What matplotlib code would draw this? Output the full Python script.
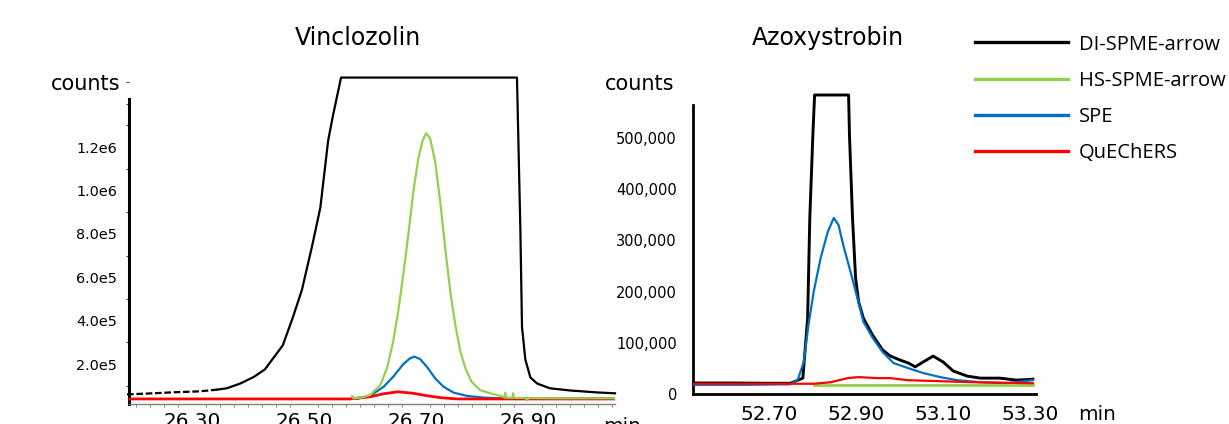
import matplotlib
matplotlib.use("Agg")
import matplotlib.pyplot as plt
from matplotlib.ticker import MultipleLocator, FixedLocator

# ---------------- data ----------------
series_names = ["DI-SPME-arrow", "HS-SPME-arrow", "SPE", "QuEChERS"]
colors = {"DI-SPME-arrow": "#000000", "HS-SPME-arrow": "#92D050",
          "SPE": "#0070C0", "QuEChERS": "#FF0000"}

# Vinclozolin (counts vs min)
vin_di_t = [26.184, 26.23, 26.27, 26.314, 26.345, 26.362, 26.386, 26.41, 26.43, 26.462,
            26.48, 26.496, 26.514, 26.529, 26.543, 26.552, 26.566, 26.880, 26.882,
            26.886, 26.889, 26.895, 26.904, 26.916, 26.939, 26.975, 27.023, 27.055]
vin_di_v = [6.0e4, 6.5e4, 7.0e4, 7.4e4, 8.2e4, 8.8e4, 1.1e5, 1.4e5, 1.75e5, 2.86e5,
            4.15e5, 5.4e5, 7.4e5, 9.2e5, 1.23e6, 1.35e6, 1.52e6, 1.52e6, 1.29e6,
            8.3e5, 3.7e5, 2.2e5, 1.38e5, 1.1e5, 8.8e4, 7.8e4, 6.9e4, 6.5e4]
vin_hs_t = [26.586, 26.588, 26.60, 26.618, 26.636, 26.648, 26.659, 26.668, 26.677,
            26.686, 26.695, 26.704, 26.712, 26.718, 26.725, 26.734, 26.743, 26.752,
            26.761, 26.770, 26.779, 26.788, 26.799, 26.814, 26.832, 26.855, 26.858,
            26.859, 26.861, 26.872, 26.873, 26.875, 26.896, 26.898, 26.900, 26.95,
            27.0, 27.055]
vin_hs_v = [5.2e4, 4.2e4, 4.4e4, 5.7e4, 1.03e5, 1.8e5, 3.03e5, 4.41e5, 6.1e5,
            7.94e5, 9.94e5, 1.148e6, 1.232e6, 1.263e6, 1.24e6, 1.132e6, 9.48e5, 7.33e5,
            5.33e5, 3.8e5, 2.57e5, 1.8e5, 1.18e5, 8.0e4, 6.5e4, 5.0e4, 4.5e4,
            6.8e4, 4.5e4, 4.4e4, 6.5e4, 4.4e4, 4.3e4, 3.2e4, 4.3e4, 4.2e4,
            4.2e4, 4.2e4]
vin_spe_t = [26.594, 26.618, 26.642, 26.659, 26.677, 26.689, 26.697, 26.707, 26.719,
             26.734, 26.749, 26.767, 26.791, 26.820, 26.85, 26.9, 27.0, 27.055]
vin_spe_v = [3.9e4, 5.4e4, 9.5e4, 1.41e5, 1.99e5, 2.26e5, 2.34e5, 2.23e5, 1.88e5,
             1.34e5, 9.5e4, 6.8e4, 5.3e4, 4.5e4, 4.2e4, 4.1e4, 4.1e4, 4.1e4]
vin_q_t = [26.184, 26.582, 26.618, 26.642, 26.668, 26.695, 26.719, 26.743, 26.773, 27.055]
vin_q_v = [3.9e4, 3.9e4, 4.9e4, 6.3e4, 7.2e4, 6.5e4, 5.4e4, 4.5e4, 3.9e4, 3.9e4]

# Azoxystrobin
azo_di_t = [52.529, 52.60, 52.70, 52.750, 52.778, 52.789, 52.794, 52.801, 52.805,
            52.883, 52.885, 52.892, 52.899, 52.906, 52.917, 52.938, 52.961, 52.979,
            53.002, 53.020, 53.036, 53.054, 53.077, 53.100, 53.123, 53.155, 53.185,
            53.230, 53.269, 53.306]
azo_di_v = [2.15e4, 2.15e4, 2.1e4, 2.1e4, 3.1e4, 1.48e5, 3.44e5, 5.06e5, 5.84e5,
            5.84e5, 5.06e5, 3.44e5, 2.27e5, 1.8e5, 1.48e5, 1.15e5, 8.6e4, 7.4e4,
            6.6e4, 6.05e4, 5.3e4, 6.25e4, 7.4e4, 6.25e4, 4.5e4, 3.5e4, 3.1e4,
            3.1e4, 2.7e4, 2.9e4]
azo_spe_t = [52.529, 52.65, 52.750, 52.766, 52.780, 52.791, 52.803, 52.819, 52.835,
             52.849, 52.860, 52.871, 52.887, 52.903, 52.917, 52.938, 52.961, 52.986,
             53.018, 53.054, 53.093, 53.132, 53.185, 53.246, 53.306]
azo_spe_v = [1.8e4, 1.8e4, 1.9e4, 2.7e4, 6.2e4, 1.35e5, 2.0e5, 2.66e5, 3.16e5,
             3.44e5, 3.3e5, 2.9e5, 2.4e5, 1.88e5, 1.41e5, 1.1e5, 8.2e4, 6.05e4,
             5.1e4, 4.1e4, 3.3e4, 2.7e4, 2.3e4, 2.1e4, 2.7e4]
azo_q_t = [52.529, 52.70, 52.803, 52.842, 52.881, 52.906, 52.949, 52.979, 53.018,
           53.093, 53.169, 53.306]
azo_q_v = [2.0e4, 2.0e4, 2.0e4, 2.3e4, 3.1e4, 3.3e4, 3.1e4, 3.1e4, 2.7e4,
           2.5e4, 2.3e4, 2.1e4]
azo_hs_t = [52.803, 53.0, 53.306]
azo_hs_v = [1.8e4, 1.8e4, 1.8e4]

vin_yticks = [2e5, 4e5, 6e5, 8e5, 1.0e6, 1.2e6]
vin_yticklabels = ["2.0e5", "4.0e5", "6.0e5", "8.0e5", "1.0e6", "1.2e6"]
vin_xticks = [26.30, 26.50, 26.70, 26.90]
vin_xticklabels = ["26.30", "26.50", "26.70", "26.90"]
azo_yticks = [0, 100000, 200000, 300000, 400000, 500000]
azo_yticklabels = ["0", "100,000", "200,000", "300,000", "400,000", "500,000"]
azo_xticks = [52.70, 52.90, 53.10, 53.30]
azo_xticklabels = ["52.70", "52.90", "53.10", "53.30"]

# ---------------- figure ----------------
W, H = 1229, 424
fig = plt.figure(figsize=(W / 100, H / 100), dpi=100)
plt.rcParams['font.family'] = ['DejaVu Sans']


def fx(px):
    return px / W


def fy(py):
    return 1 - py / H


ax1 = fig.add_axes([fx(129), 20 / H, 486 / W, 326 / H])
ax2 = fig.add_axes([fx(693), 30 / H, 343 / W, 299 / H])

lw = 1.6
# Vinclozolin
split = 5
ax1.plot(vin_di_t[:split], vin_di_v[:split], color=colors["DI-SPME-arrow"], lw=lw,
         ls=(0, (3, 1.2)), zorder=2, clip_on=False)
l_di, = ax1.plot(vin_di_t[split - 1:], vin_di_v[split - 1:], color=colors["DI-SPME-arrow"],
                 lw=lw, zorder=2, clip_on=False, label="DI-SPME-arrow")
l_spe, = ax1.plot(vin_spe_t, vin_spe_v, color=colors["SPE"], lw=lw, zorder=3, label="SPE")
l_q, = ax1.plot(vin_q_t, vin_q_v, color=colors["QuEChERS"], lw=lw + 0.4, zorder=4, label="QuEChERS")
l_hs, = ax1.plot(vin_hs_t, vin_hs_v, color=colors["HS-SPME-arrow"], lw=lw, zorder=5,
                 label="HS-SPME-arrow")

ax1.set_xlim(26.1875, 27.055)
ax1.set_ylim(1.57e4, 1.518e6)
for s in ["top", "right"]:
    ax1.spines[s].set_visible(False)
ax1.spines["left"].set_linewidth(2.2)
ax1.spines["left"].set_bounds(1.57e4, 1.421e6)
ax1.spines["bottom"].set_color("#808080")
ax1.spines["bottom"].set_linewidth(1.0)
ax1.yaxis.set_major_locator(FixedLocator(vin_yticks))
ax1.set_yticklabels(vin_yticklabels)
ax1.yaxis.set_minor_locator(MultipleLocator(1e5))
ax1.xaxis.set_major_locator(FixedLocator(vin_xticks))
ax1.set_xticklabels(vin_xticklabels)
ax1.xaxis.set_minor_locator(MultipleLocator(0.025))
ax1.tick_params(axis="y", which="major", length=0, pad=8.6, labelsize=10.4)
ax1.tick_params(axis="y", which="minor", length=2.5, width=0.7, color="#333333")
ax1.tick_params(axis="x", which="major", length=0, pad=5.8, labelsize=14.4)
ax1.tick_params(axis="x", which="minor", length=2.5, width=0.7, color="#808080")

# Azoxystrobin
ax2.plot(azo_di_t, azo_di_v, color=colors["DI-SPME-arrow"], lw=2.1, zorder=2, clip_on=False)
ax2.plot(azo_spe_t, azo_spe_v, color=colors["SPE"], lw=lw, zorder=3)
ax2.plot(azo_hs_t, azo_hs_v, color=colors["HS-SPME-arrow"], lw=lw + 0.4, zorder=4)
ax2.plot(azo_q_t, azo_q_v, color=colors["QuEChERS"], lw=lw, zorder=5)
ax2.set_xlim(52.526, 53.313)
ax2.set_ylim(0, 5.84e5)
for s in ["top", "right"]:
    ax2.spines[s].set_visible(False)
ax2.spines["left"].set_linewidth(2.0)
ax2.spines["left"].set_bounds(0, 5.64e5)
ax2.spines["bottom"].set_linewidth(2.0)
ax2.yaxis.set_major_locator(FixedLocator(azo_yticks))
ax2.set_yticklabels(azo_yticklabels)
ax2.xaxis.set_major_locator(FixedLocator(azo_xticks))
ax2.set_xticklabels(azo_xticklabels)
ax2.tick_params(axis="y", length=0, pad=11.5, labelsize=10.5)
ax2.tick_params(axis="x", length=0, pad=8, labelsize=14.4)

# texts
fig.text(fx(358), fy(38), "Vinclozolin", ha="center", va="center", fontsize=17)
fig.text(fx(828), fy(38), "Azoxystrobin", ha="center", va="center", fontsize=17)
fig.text(fx(86), fy(84), "counts", ha="center", va="center", fontsize=15)
fig.text(fx(640), fy(84), "counts", ha="center", va="center", fontsize=15)
fig.text(fx(622), fy(427), "min", ha="center", va="center", fontsize=14.4)
fig.text(fx(1097), fy(414), "min", ha="center", va="center", fontsize=14.4)

# legend
leg = fig.legend(handles=[l_di, l_hs, l_spe, l_q], labels=series_names,
                 loc="upper left", bbox_to_anchor=(fx(975), fy(34.5)),
                 frameon=False, borderpad=0, borderaxespad=0,
                 handlelength=4.6, handletextpad=0.55, labelspacing=0.81,
                 prop={"family": "Open Sans", "size": 14.5})
for ln in leg.get_lines():
    ln.set_linewidth(2.4)
    ln.set_linestyle("-")

fig.savefig("out.png", dpi=100)
